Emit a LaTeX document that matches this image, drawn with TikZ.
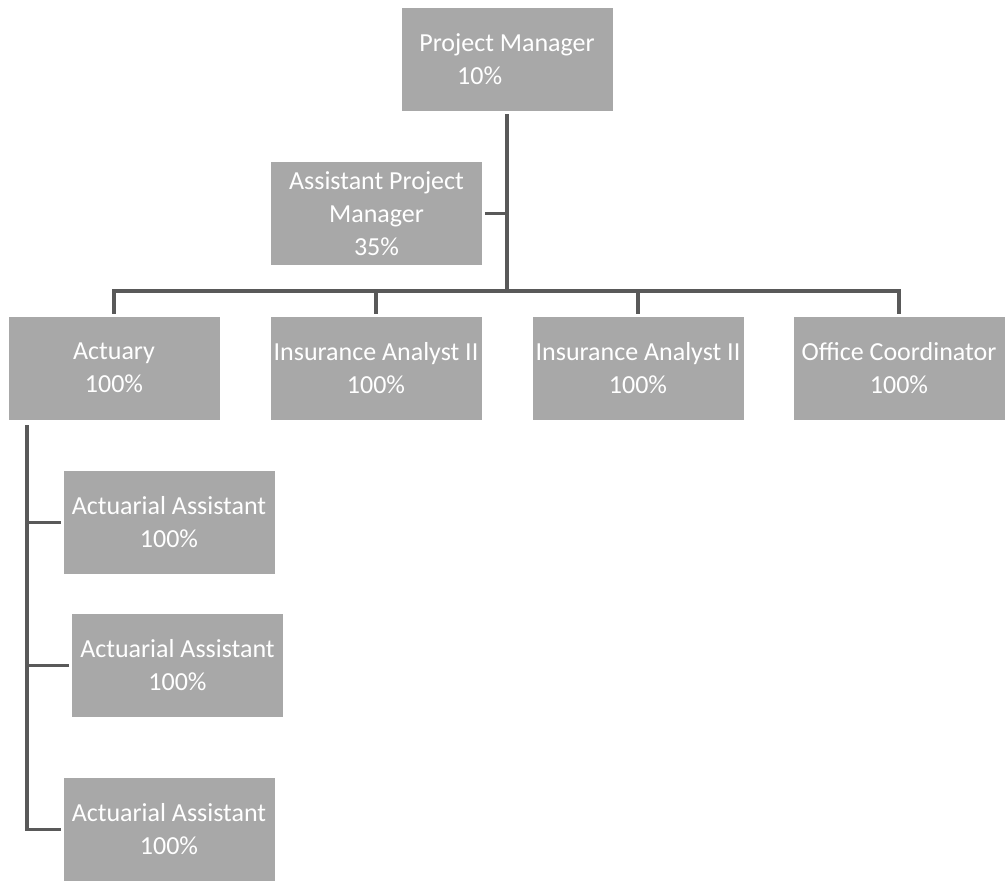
\documentclass[tikz,border=0pt]{standalone}
\usepackage{fontspec}
\setmainfont{Carlito}
\usepackage{tikz}
\usetikzlibrary{positioning}
\definecolor{boxgray}{gray}{0.66}
\definecolor{linegray}{gray}{0.35}

\begin{document}
\begin{tikzpicture}[x=1pt, y=-1pt]
\useasboundingbox (0,0) rectangle (1005,881);
\tikzstyle{every node} = [rectangle, fill=boxgray, text=white, align=center, minimum width=211pt, minimum height=103pt, inner sep=0pt, outer sep=3pt, font=\fontsize{26}{33}\selectfont]
\tikzstyle{link} = [draw=linegray, line width=3.5pt]
% top
\node (pm) at (507,59.5) {Project Manager\\10\%\hspace*{2.1em}};
\node (apm) at (376.5,213.5) {Assistant Project\\Manager\\35\%};
% second row
\node (act) at (114,368) {Actuary\\100\%};
\node (ia1) at (376,368) {Insurance Analyst II\\100\%};
\node (ia2) at (638,368) {Insurance Analyst II\\100\%};
\node (oc) at (899,368) {Office Coordinator\\100\%};
% under the actuary
\node (aa1) at (169,522.5) {Actuarial Assistant\\100\%};
\node (aa2) at (177.5,665.5) {Actuarial Assistant\\100\%};
\node (aa3) at (169,829.5) {Actuarial Assistant\\100\%};
\coordinate (bus) at (507,291);
\coordinate (stem) at (27,425);
\draw[link] (pm.south) -- (bus);
\draw[link] (apm.east) -- (apm.east -| bus);
\draw[link] (act.north) |- (bus) -| (oc.north);
\draw[link] (ia1.north) -- (ia1.north |- bus);
\draw[link] (ia2.north) -- (ia2.north |- bus);
\draw[link] (stem) |- (aa3.west);
\draw[link] (aa1.west) -- (aa1.west -| stem);
\draw[link] (aa2.west) -- (aa2.west -| stem);
\end{tikzpicture}
\end{document}
